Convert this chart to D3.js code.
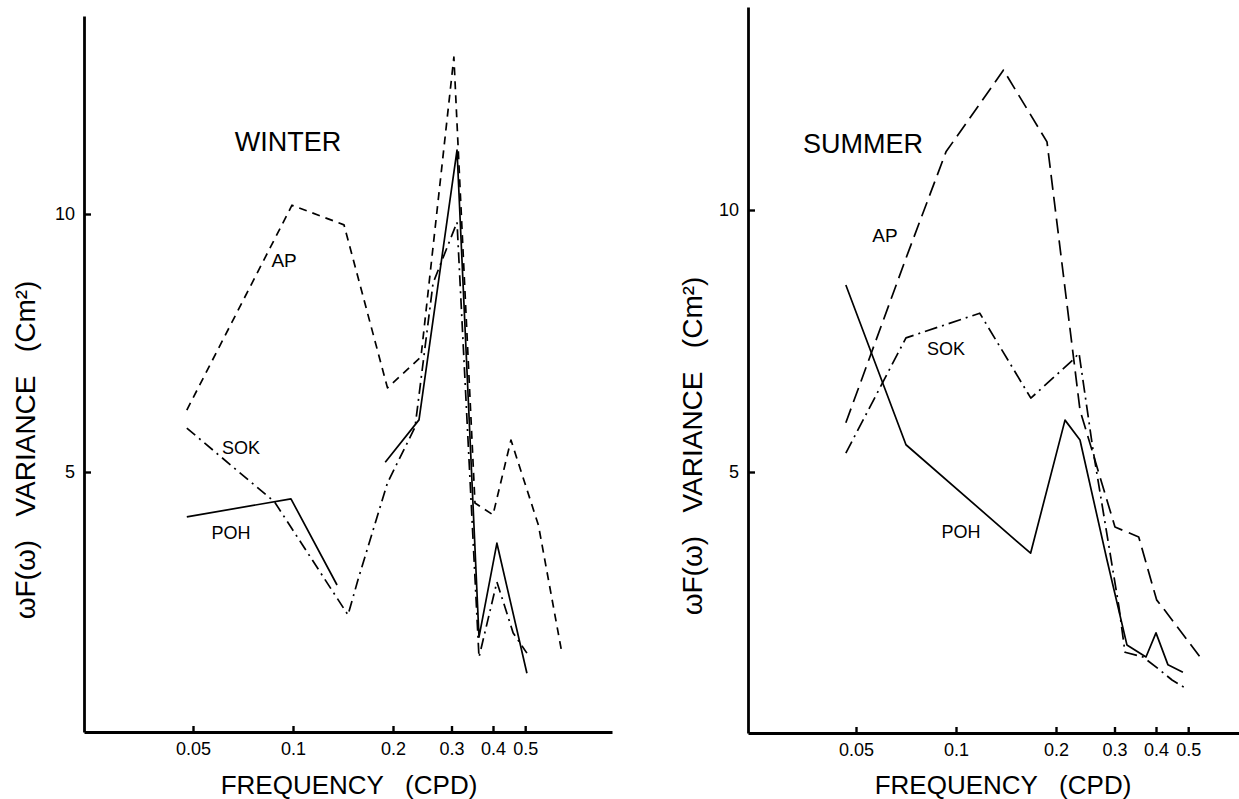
<!DOCTYPE html>
<html>
<head>
<meta charset="utf-8">
<title>Winter / Summer variance spectra</title>
<script src="https://cdn.jsdelivr.net/npm/d3@7"></script>
<style>
  body { margin: 0; background: #fff; }
  svg text { font-family: "Liberation Sans", Arial, sans-serif; fill: #000; }
  .line { fill: none; stroke: #000; stroke-width: 1.7px; stroke-linejoin: round; }
  .axis path { stroke: #000; stroke-width: 2.8px; }
  .axis line { stroke: #000; stroke-width: 2.4px; }
  .title { white-space: pre; }
</style>
</head>
<body>
<svg width="1239" height="799"></svg>
<script>
// tick labels
var freqTicks = [0.05, 0.1, 0.2, 0.3, 0.4, 0.5]
var varTicks = [5, 10]

// WINTER
var winterApFreq = [0.0479, 0.0993, 0.1424, 0.1925, 0.2428, 0.305, 0.353, 0.400, 0.453, 0.548, 0.645]
var winterApVar = [6.20, 10.17, 9.79, 6.63, 7.23, 13.04, 4.40, 4.17, 5.62, 3.97, 1.49]

var winterSokFreq = [0.0479, 0.088, 0.1464, 0.1569, 0.1925, 0.233, 0.264, 0.3117, 0.363, 0.411, 0.46, 0.506]
var winterSokVar = [5.85, 4.42, 2.23, 2.91, 4.79, 5.87, 8.66, 9.84, 1.41, 2.87, 1.88, 1.49]

// null = gap in the drawn curve
var winterPohFreq = [0.0479, 0.0986, 0.1357, 0.165, 0.1895, 0.2395, 0.3117, 0.363, 0.411, 0.506]
var winterPohVar = [4.13, 4.48, 2.81, null, 5.19, 6.01, 11.24, 1.80, 3.62, 1.10]

// SUMMER
var summerApFreq = [0.0466, 0.0707, 0.0933, 0.139, 0.1879, 0.2362, 0.301, 0.3548, 0.4017, 0.424, 0.5427]
var summerApVar = [5.94, 9.08, 11.11, 12.67, 11.30, 6.18, 3.95, 3.76, 2.56, 2.37, 1.47]

var summerSokFreq = [0.0466, 0.0707, 0.1179, 0.168, 0.225, 0.2346, 0.2585, 0.3095, 0.3226, 0.3655, 0.411, 0.447, 0.489]
var summerSokVar = [5.36, 7.56, 8.03, 6.41, 7.14, 7.27, 5.42, 2.42, 1.56, 1.47, 1.22, 1.03, 0.88]

var summerPohFreq = [0.0466, 0.0707, 0.1677, 0.2129, 0.2362, 0.2848, 0.327, 0.3732, 0.4, 0.4346, 0.482]
var summerPohVar = [8.57, 5.52, 3.45, 5.99, 5.61, 3.32, 1.70, 1.47, 1.93, 1.32, 1.18]

// label anchors, in data units (freq, variance)
var winterLabels = [['WINTER', 0.0966, 11.41, 27], ['AP', 0.094, 9.11, 19], ['SOK', 0.0697, 5.48, 18], ['POH', 0.0651, 3.82, 18]]
var summerLabels = [['SUMMER', 0.0525, 11.28, 27], ['AP', 0.0611, 9.52, 19], ['SOK', 0.0933, 7.35, 18], ['POH', 0.1035, 3.87, 18]]

function zip(f, v) {
  return f.map(function(d, i) { return [d, v[i]] })
}

var panels = [
  {
    // layout of the left panel
    xAxisLeft: 84, xAxisRight: 612, x005: 193, x04: 493,
    yBottom: 732, yTop: 16, y0: 730, y10: 214,
    titleX: 349, yTitleX: 25, yTitleY: 450,
    apDash: '8,6',
    labels: winterLabels,
    series: [
      { data: zip(winterApFreq, winterApVar), dash: 'ap' },
      { data: zip(winterSokFreq, winterSokVar), dash: '11,5,2,5' },
      { data: zip(winterPohFreq, winterPohVar), dash: null }
    ]
  },
  {
    xAxisLeft: 748, xAxisRight: 1239, x005: 856, x04: 1156,
    yBottom: 733, yTop: 7, y0: 734, y10: 210,
    titleX: 1003, yTitleX: 692, yTitleY: 446,
    apDash: '15,7',
    labels: summerLabels,
    series: [
      { data: zip(summerApFreq, summerApVar), dash: 'ap' },
      { data: zip(summerSokFreq, summerSokVar), dash: '13,5,2,5' },
      { data: zip(summerPohFreq, summerPohVar), dash: null }
    ]
  }
]

var svg = d3.select('svg')

panels.forEach(function(p) {
  var x = d3.scaleLog().domain([0.05, 0.4]).range([p.x005, p.x04])
  x.domain([x.invert(p.xAxisLeft), x.invert(p.xAxisRight)]).range([p.xAxisLeft, p.xAxisRight])

  var y = d3.scaleLinear().domain([0, 10]).range([p.y0, p.y10])
  y.domain([y.invert(p.yBottom), y.invert(p.yTop)]).range([p.yBottom, p.yTop])

  var g = svg.append('g')

  // axes
  var xAxis = d3.axisBottom(x)
    .tickValues(freqTicks)
    .tickFormat(function(d) { return String(d) })
    .tickSize(-6)
    .tickSizeOuter(0)
    .tickPadding(10)

  var yAxis = d3.axisLeft(y)
    .tickValues(varTicks)
    .tickSize(-7)
    .tickSizeOuter(0)
    .tickPadding(9)

  g.append('g')
    .attr('class', 'axis')
    .attr('transform', 'translate(0,' + p.yBottom + ')')
    .call(xAxis)
    .attr('font-size', 18)
    .attr('font-family', null)

  g.append('g')
    .attr('class', 'axis')
    .attr('transform', 'translate(' + p.xAxisLeft + ',0)')
    .call(yAxis)
    .attr('font-size', 18)
    .attr('font-family', null)

  // curves
  var line = d3.line()
    .defined(function(d) { return d[1] != null })
    .x(function(d) { return x(d[0]) })
    .y(function(d) { return y(d[1]) })

  g.selectAll('path.line')
    .data(p.series)
    .enter()
    .append('path')
    .classed('line', true)
    .attr('d', function(d) { return line(d.data) })
    .attr('stroke-dasharray', function(d) {
      return d.dash === 'ap' ? p.apDash : d.dash
    })

  // season + station labels
  g.selectAll('text.lbl')
    .data(p.labels)
    .enter()
    .append('text')
    .attr('class', 'lbl')
    .attr('x', function(d) { return x(d[1]) })
    .attr('y', function(d) { return y(d[2]) })
    .attr('text-anchor', 'middle')
    .attr('dy', '0.36em')
    .attr('font-size', function(d) { return d[3] })
    .text(function(d) { return d[0] })

  // axis titles
  g.append('text')
    .attr('class', 'title')
    .attr('x', p.titleX)
    .attr('y', 794)
    .attr('text-anchor', 'middle')
    .attr('font-size', 26)
    .text('FREQUENCY   (CPD)')

  g.append('text')
    .attr('class', 'title')
    .attr('transform', 'translate(' + p.yTitleX + ',' + p.yTitleY + ') rotate(-90)')
    .attr('text-anchor', 'middle')
    .attr('dy', '0.36em')
    .attr('font-size', 28)
    .text('ωF(ω)   VARIANCE   (Cm²)')
})
</script>
</body>
</html>
